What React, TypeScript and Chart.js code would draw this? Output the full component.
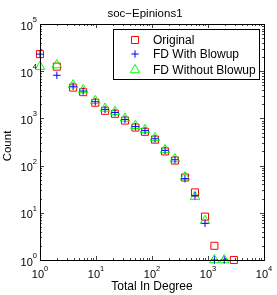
import { useEffect, useRef } from 'react';
import { Chart, registerables } from 'chart.js';

Chart.register(...registerables);

const titleText = 'soc\u2212Epinions1';
const xLabel = 'Total In Degree';
const yLabel = 'Count';
const seriesNames = ['Original', 'FD With Blowup', 'FD Without Blowup'];

const originalX = [1, 2, 3.9, 5.9, 9.7, 14.5, 21.8, 32.9, 50.6, 75, 113, 171, 257, 388, 586, 884, 1300, 2900];
const originalY = [23000, 12500, 4500, 3600, 2150, 1450, 1250, 900, 640, 520, 355, 200, 128, 56, 27, 8.3, 2, 1];

const blowupX = [1, 2, 3.9, 5.9, 9.7, 14.5, 21.8, 32.9, 50.6, 75, 113, 171, 257, 388, 586, 884, 1300, 1950];
const blowupY = [23000, 8200, 4800, 3800, 2250, 1550, 1330, 950, 670, 550, 370, 210, 133, 53, 23, 6, 1, 1];

const withoutX = [1, 2, 3.9, 5.9, 9.7, 14.5, 21.8, 32.9, 50.6, 75, 113, 171, 257, 388, 586, 884, 1300, 1950];
const withoutY = [12500, 13500, 5100, 4000, 2350, 1620, 1380, 1000, 700, 570, 385, 215, 138, 57, 22, 6.8, 1, 1];

const xExponents = [0, 1, 2, 3, 4];
const yExponents = [0, 1, 2, 3, 4, 5];

const RED = '#ff0000';
const BLUE = '#0000ff';
const GREEN = '#00ff00';

function toPoints(xs: number[], ys: number[]) {
  return xs.map((x, i) => ({ x, y: ys[i] }));
}

function drawMarker(ctx: CanvasRenderingContext2D, kind: string, x: number, y: number) {
  ctx.save();
  ctx.lineWidth = 1;
  ctx.beginPath();
  if (kind === 'rect') {
    const s = 5 * Math.SQRT1_2;
    ctx.strokeStyle = RED;
    ctx.rect(x - s, y - s, 2 * s, 2 * s);
  } else if (kind === 'cross') {
    const r = 3.75;
    ctx.strokeStyle = BLUE;
    ctx.moveTo(x - r, y);
    ctx.lineTo(x + r, y);
    ctx.moveTo(x, y - r);
    ctx.lineTo(x, y + r);
  } else {
    const r = 5.5;
    ctx.strokeStyle = GREEN;
    ctx.moveTo(x, y - r);
    ctx.lineTo(x + r * Math.sin((2 * Math.PI) / 3), y - r * Math.cos((2 * Math.PI) / 3));
    ctx.lineTo(x + r * Math.sin((4 * Math.PI) / 3), y - r * Math.cos((4 * Math.PI) / 3));
    ctx.closePath();
  }
  ctx.stroke();
  ctx.restore();
}

const BASE_FONT = '11px "Liberation Sans", Arial, sans-serif';
const EXP_FONT = '7.5px "Liberation Sans", Arial, sans-serif';

function drawPow(ctx: CanvasRenderingContext2D, exp: number, left: number, baseline: number) {
  ctx.font = BASE_FONT;
  ctx.textAlign = 'left';
  ctx.textBaseline = 'alphabetic';
  ctx.fillText('10', left, baseline);
  const w = ctx.measureText('10').width;
  ctx.font = EXP_FONT;
  ctx.fillText(String(exp), left + w, baseline - 7.5);
}

function powWidth(ctx: CanvasRenderingContext2D, exp: number) {
  ctx.font = BASE_FONT;
  const a = ctx.measureText('10').width;
  ctx.font = EXP_FONT;
  const b = ctx.measureText(String(exp)).width;
  return a + b;
}

const decorPlugin = {
  id: 'decor',
  afterDatasetsDraw(chart: any) {
    const ctx: CanvasRenderingContext2D = chart.ctx;
    const xs = chart.scales.x;
    const ys = chart.scales.y;
    const { left, right, top, bottom } = chart.chartArea;
    ctx.save();
    ctx.fillStyle = '#000';
    ctx.strokeStyle = '#000';
    ctx.lineWidth = 1;

    // ticks inward on all four sides
    ctx.beginPath();
    for (let k = 0; k < xExponents.length; k++) {
      const e = xExponents[k];
      for (let m = 1; m <= 9; m++) {
        if (k === xExponents.length - 1 && m > 1) break;
        const v = m * Math.pow(10, e);
        const px = Math.round(xs.getPixelForValue(v)) + 0.5;
        const len = m === 1 ? 4 : 2;
        ctx.moveTo(px, bottom);
        ctx.lineTo(px, bottom - len);
        ctx.moveTo(px, top);
        ctx.lineTo(px, top + len);
      }
    }
    for (let k = 0; k < yExponents.length; k++) {
      const e = yExponents[k];
      for (let m = 1; m <= 9; m++) {
        if (k === yExponents.length - 1 && m > 1) break;
        const v = m * Math.pow(10, e);
        const py = Math.round(ys.getPixelForValue(v)) + 0.5;
        const len = m === 1 ? 4 : 2;
        ctx.moveTo(left, py);
        ctx.lineTo(left + len, py);
        ctx.moveTo(right, py);
        ctx.lineTo(right - len, py);
      }
    }
    ctx.strokeStyle = '#444';
    ctx.stroke();

    // box
    ctx.strokeStyle = '#000';
    ctx.strokeRect(Math.round(left) + 0.5, Math.round(top) + 0.5, Math.round(right - left), Math.round(bottom - top));

    // tick labels
    ctx.fillStyle = '#000';
    xExponents.forEach((e) => {
      const px = xs.getPixelForValue(Math.pow(10, e));
      const w = powWidth(ctx, e);
      drawPow(ctx, e, px - w / 2, bottom + 18);
    });
    yExponents.forEach((e) => {
      const py = ys.getPixelForValue(Math.pow(10, e));
      const w = powWidth(ctx, e);
      drawPow(ctx, e, left - 3 - w, py + 5.5);
    });

    // title
    ctx.font = '11.5px "Liberation Sans", Arial, sans-serif';
    ctx.textAlign = 'center';
    ctx.textBaseline = 'middle';
    ctx.fillText(titleText, 145, 14);

    // x label
    ctx.font = '12px "Liberation Sans", Arial, sans-serif';
    ctx.fillText(xLabel, (left + right) / 2, 287);

    // y label
    ctx.save();
    ctx.translate(8, 146);
    ctx.rotate(-Math.PI / 2);
    ctx.font = '11.5px "Liberation Sans", Arial, sans-serif';
    ctx.textAlign = 'center';
    ctx.textBaseline = 'middle';
    ctx.fillText(yLabel, 0, 0);
    ctx.restore();

    // legend
    ctx.fillStyle = '#fff';
    ctx.fillRect(113.5, 29.5, 146, 50);
    ctx.strokeStyle = '#000';
    ctx.strokeRect(113.5, 29.5, 146, 50);
    const rows = [40, 54, 70];
    const kinds = ['rect', 'cross', 'triangle'];
    ctx.font = '12px "Liberation Sans", Arial, sans-serif';
    ctx.textAlign = 'left';
    ctx.textBaseline = 'middle';
    seriesNames.forEach((name, i) => {
      drawMarker(ctx, kinds[i], 135, rows[i]);
      ctx.fillStyle = '#000';
      ctx.fillText(name, 153, rows[i] + 0.5);
    });
    ctx.restore();
  },
};

export default function App() {
  const canvasRef = useRef<HTMLCanvasElement | null>(null);

  useEffect(() => {
    if (!canvasRef.current) return;
    const chart = new Chart(canvasRef.current, {
      type: 'scatter',
      data: {
        datasets: [
          {
            label: seriesNames[0],
            data: toPoints(originalX, originalY),
            pointStyle: 'rect',
            pointRadius: 5,
            borderColor: RED,
            backgroundColor: 'rgba(0,0,0,0)',
            pointBorderWidth: 1,
            showLine: false,
            order: 3,
            clip: false as any,
          },
          {
            label: seriesNames[1],
            data: toPoints(blowupX, blowupY),
            pointStyle: 'cross',
            pointRadius: 3.75,
            borderColor: BLUE,
            backgroundColor: 'rgba(0,0,0,0)',
            pointBorderWidth: 1,
            showLine: false,
            order: 1,
            clip: false as any,
          },
          {
            label: seriesNames[2],
            data: toPoints(withoutX, withoutY),
            pointStyle: 'triangle',
            pointRadius: 5.5,
            borderColor: GREEN,
            backgroundColor: 'rgba(0,0,0,0)',
            pointBorderWidth: 1,
            showLine: false,
            order: 2,
            clip: false as any,
          },
        ],
      },
      options: {
        animation: false,
        responsive: true,
        maintainAspectRatio: false,
        layout: { padding: { left: 40, top: 24, right: 13, bottom: 35 } },
        scales: {
          x: { type: 'logarithmic', min: 1, max: 10000, display: false },
          y: { type: 'logarithmic', min: 1, max: 100000, display: false },
        },
        plugins: {
          legend: { display: false },
          tooltip: { enabled: false },
          title: { display: false },
        },
        elements: { point: { hoverRadius: 5 } },
      },
      plugins: [decorPlugin],
    });
    return () => chart.destroy();
  }, []);

  return (
    <div style={{ position: 'fixed', left: 0, top: 0, width: 277, height: 295, background: '#fff' }}>
      <canvas ref={canvasRef} />
    </div>
  );
}
